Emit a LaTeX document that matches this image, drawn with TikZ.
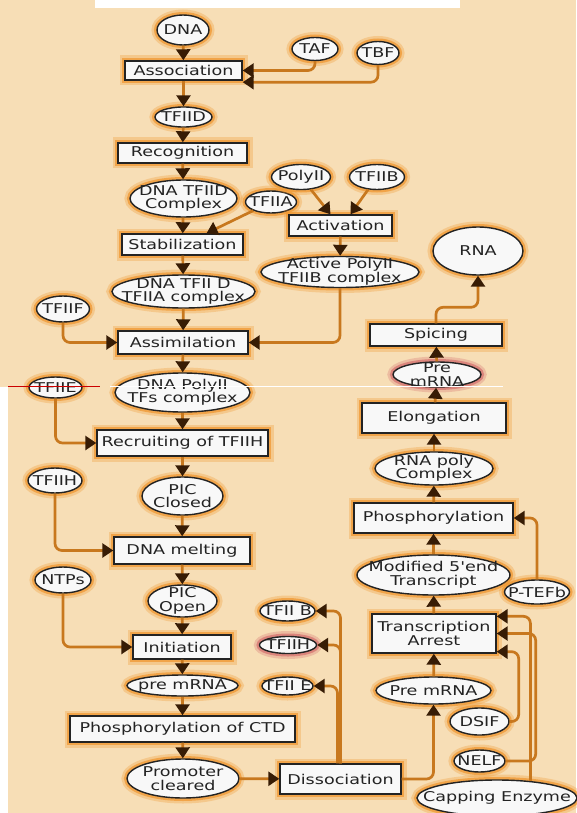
\documentclass[tikz,border=0pt]{standalone}
\usepackage{fontspec}
\newfontfamily\diagfont{DejaVu Sans}[FakeStretch=1.3]
\usepackage{tikz}
\usetikzlibrary{arrows.meta, shapes.geometric}
\definecolor{paper}{RGB}{247,222,182}
\definecolor{glow}{RGB}{240,150,45}
\definecolor{pinkglow}{RGB}{212,110,110}
\definecolor{linkcol}{RGB}{200,120,30}
\definecolor{tipcol}{RGB}{55,28,5}
\definecolor{boxfill}{RGB}{248,248,248}
\definecolor{edge}{RGB}{35,35,35}
\newcommand{\nodefont}{\diagfont\fontsize{13.5}{13.5}\selectfont}
\tikzset{
      halo/.style={
        preaction={draw=#1, line width=11pt, opacity=0.3},
        preaction={draw=#1, line width=6pt, opacity=0.7},
      },
      glow box/.style 2 args={
        rectangle, draw=edge, line width=1.4pt, fill=boxfill,
        minimum width=#1pt, minimum height=#2pt, inner sep=0pt,
        font=\nodefont, text=edge, align=center, halo=glow,
      },
      oval base/.style 2 args={
        ellipse, draw=edge, line width=1.4pt, fill=boxfill,
        minimum width=#1pt, minimum height=#2pt, inner sep=-40pt, % size comes from the minimum values only
        font=\nodefont, text=edge, align=center,
      },
      glow oval/.style 2 args={oval base={#1}{#2}, halo=glow},
      pink oval/.style 2 args={oval base={#1}{#2}, halo=pinkglow},
      link/.style={
        draw=linkcol, line width=2.7pt, rounded corners=7pt,
        -{Triangle[length=11pt, width=14pt, color=tipcol]},
      },
  	}
\begin{document}
\begin{tikzpicture}[x=1pt, y=-1pt]
    \fill[paper] (0,0) rectangle (576,813);
    \fill[white] (0,387) rectangle (8,813);
    \fill[white] (95,0) rectangle (460,8);
    \useasboundingbox (0,0) rectangle (576,813);

    \node [glow oval={52}{30}] (dna) at (183,30) {DNA};
    \node [glow oval={46}{23}] (taf) at (315,49) {TAF};
    \node [glow oval={42}{23}] (tbf) at (378,53) {TBF};
    \node [glow box={117}{19}] (assoc) at (183.5,70.5) {Association};
    \node [glow oval={57}{20}] (tfiid) at (183.5,117) {TFIID};
    \node [glow box={129}{20}] (recog) at (182.5,153) {Recognition};
    \node [glow oval={107}{37}] (dnacx) at (183.5,198.5) {DNA TFIID\\Complex};
    \node [glow oval={51}{22}] (tfiia) at (271,202) {TFIIA};
    \node [glow oval={59}{25}] (polyii) at (301,177) {PolyII};
    \node [glow oval={55}{25}] (tfiib) at (377,177) {TFIIB};
    \node [glow box={103}{21}] (activ) at (340.5,225.5) {Activation};
    \node [glow box={121}{21}] (stab) at (182.5,244.5) {Stabilization};
    \node [glow oval={158}{31}] (actcx) at (340,272) {Active PolyII\\TFIIB complex};
    \node [glow oval={143}{33}] (dnaa) at (183.5,291.5) {DNA TFII D\\TFIIA complex};
    \node [glow oval={53}{26}] (tfiif) at (63,309) {TFIIF};
    \node [glow box={130}{23}] (assim) at (183,342.5) {Assimilation};
    \node [glow oval={53}{21}] (tfiie) at (55.5,387.5) {TFIIE};
    \node [glow oval={135}{39}] (pol) at (182.5,392.5) {DNA PolyII\\TFs complex};
    \node [glow box={171}{26}] (recruit) at (182.5,443) {Recruiting of TFIIH};
    \node [glow oval={54}{25}] (tfiihl) at (55,480.5) {TFIIH};
    \node [glow oval={81}{38}] (picc) at (182.5,496) {PIC\\Closed};
    \node [glow box={136}{27}] (melt) at (182,550.5) {DNA melting};
    \node [glow oval={56}{26}] (ntps) at (63,580) {NTPs};
    \node [glow oval={69}{32}] (pico) at (182.5,601) {PIC\\Open};
    \node [glow box={98}{24}] (init) at (182,647) {Initiation};
    \node [glow oval={111}{21}] (prem) at (182.5,685.5) {pre mRNA};
    \node [glow box={225}{26}] (phctd) at (182.5,729) {Phosphorylation of CTD};
    \node [glow oval={112}{39}] (prom) at (183,778.5) {Promoter\\cleared};
    \node [glow box={121}{30}] (dissoc) at (340.5,779) {Dissociation};
    \node [glow oval={55}{20}] (tfiibr) at (287.5,611) {TFII B};
    \node [pink oval={57}{17}] (tfiihr) at (288,645) {TFIIH};
    \node [glow oval={51}{18}] (tfiier) at (287.5,686) {TFII E};
    \node [glow oval={90}{48}] (rna) at (478,251) {RNA};
    \node [glow box={132}{22}] (spic) at (436,335) {Spicing};
    \node [pink oval={88}{25}] (premt) at (437,374.5) {Pre\\mRNA};
    \node [glow box={144}{30}] (elong) at (434,418) {Elongation};
    \node [glow oval={118}{33}] (rnap) at (434,468.5) {RNA poly\\Complex};
    \node [glow box={159}{30}] (phos) at (433.5,518) {Phosphorylation};
    \node [glow oval={153}{40}] (mod) at (433.5,575) {Modified 5'end\\Transcript};
    \node [glow oval={65}{24}] (ptefb) at (537,592) {P-TEFb};
    \node [glow box={124}{39}] (arrest) at (434,633.5) {Transcription\\Arrest};
    \node [glow oval={115}{27}] (premr) at (433.5,690.5) {Pre mRNA};
    \node [glow oval={59}{27}] (dsif) at (479.5,721.5) {DSIF};
    \node [glow oval={51}{22}] (nelf) at (479.5,761) {NELF};
    \node [glow oval={160}{36}] (cap) at (497,798) {Capping Enzyme};

    \draw [link] (dna) -- (assoc);
    \draw [link] (taf.south) |- (assoc.east);
    \draw [link] (tbf.south) |- ([yshift=-1.5pt]assoc.south east);
    \draw [link] (assoc) -- (tfiid);
    \draw [link] (tfiid) -- (recog);
    \draw [link] (recog) -- (dnacx);
    \draw [link] (dnacx) -- (stab);
    \draw [link] (tfiia) -- ([xshift=24pt]stab.north);
    \draw [link] (polyii) -- ([xshift=-10pt]activ.north);
    \draw [link] (tfiib) -- ([xshift=10pt]activ.north);
    \draw [link] (activ) -- (actcx);
    \draw [link] (stab) -- (dnaa);
    \draw [link] (dnaa) -- (assim);
    \draw [link] (actcx.south) |- (assim.east);
    \draw [link] (tfiif.south) |- (assim.west);
    \draw [link] (assim) -- (pol);
    \draw [link] (pol) -- (recruit);
    \draw [link] (tfiie.south) |- (recruit.west);
    \draw [link] (recruit) -- (picc);
    \draw [link] (picc) -- (melt);
    \draw [link] (tfiihl.south) |- (melt.west);
    \draw [link] (melt) -- (pico);
    \draw [link] (pico) -- (init);
    \draw [link] (ntps.south) |- (init.west);
    \draw [link] (init) -- (prem);
    \draw [link] (prem) -- (phctd);
    \draw [link] (phctd) -- (prom);
    \draw [link] (prom) -- (dissoc);
    \draw [link] (dissoc.north) |- (tfiibr.east);
    \draw [link] (dissoc.north) |- (tfiihr.east);
    \draw [link] ([xshift=-3pt]dissoc.north) |- (tfiier.east);
    \draw [link] (dissoc.east) -| (premr.south);
    \draw [link] (premr) -- (arrest);
    \draw [link] (arrest) -- (mod);
    \draw [link] (mod) -- (phos);
    \draw [link] (ptefb.north) |- (phos.east);
    \draw [link] (dsif.east) -- ++(9,0) |- ([yshift=2pt]arrest.south east);
    \draw [link] (nelf.east) -- ++(30,0) |- (arrest.east);
    \draw [link] (cap.27) |- ([yshift=-3pt]arrest.north east);
    \draw [link] (phos) -- (rnap);
    \draw [link] (rnap) -- (elong);
    \draw [link] (elong) -- (premt);
    \draw [link] (premt) -- (spic);
    \draw [link] (spic.north) -- ++(0,-16) -| (rna.south);

    \draw [red!80!black, line width=1.3pt] (8,386.5) -- (100,386.5);
    \draw [white, line width=1.5pt] (110,386.5) -- (503,386.5);
\end{tikzpicture}
\end{document}
